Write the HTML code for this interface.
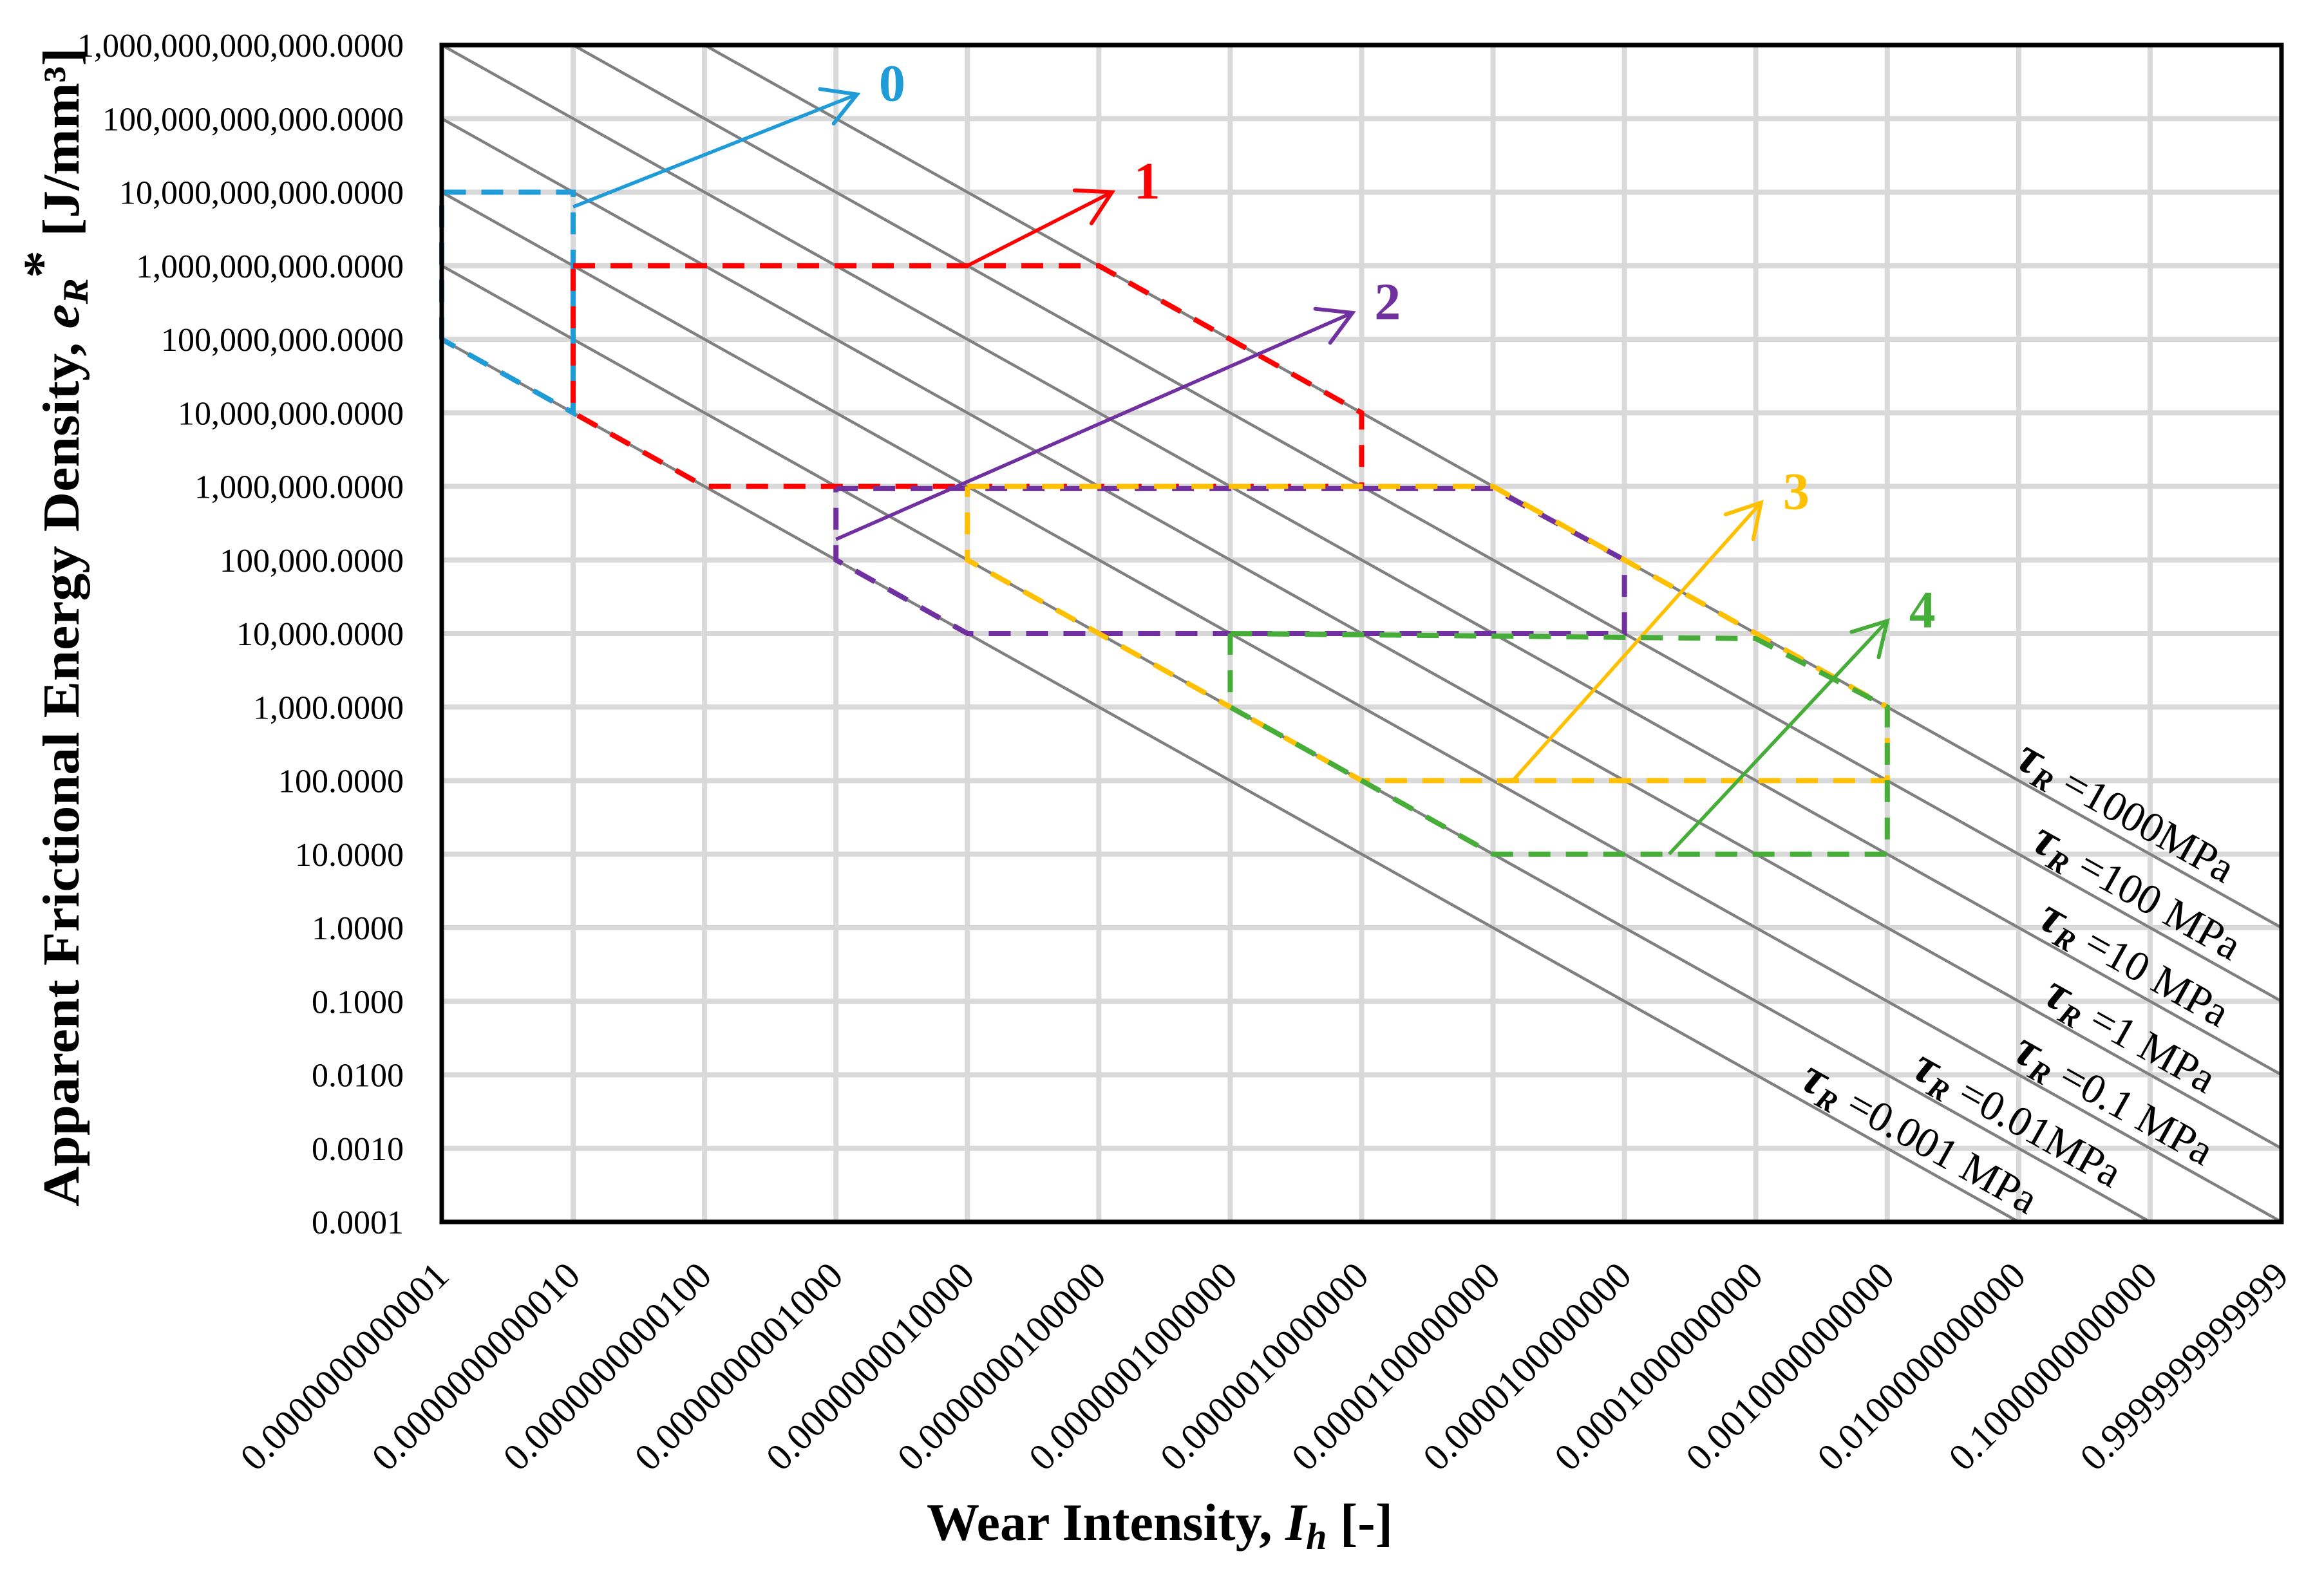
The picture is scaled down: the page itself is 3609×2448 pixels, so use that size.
<!DOCTYPE html>
<html><head><meta charset="utf-8"><style>
html,body{margin:0;padding:0;background:#fff;}
svg{display:block;font-family:"Liberation Serif",serif;}
</style></head><body>
<svg id="chart" width="3609" height="2448" viewBox="0 0 3609 2448" xmlns="http://www.w3.org/2000/svg">
<rect x="0" y="0" width="3609" height="2448" fill="#fff"/>
<g id="grid"></g>
<g id="diag"></g>
<g id="series"></g>
<rect x="686" y="70" width="2857" height="1828" fill="none" stroke="#000" stroke-width="7"/>
<g id="ylabels" font-size="52" text-anchor="end"></g>
<g id="xlabels" font-size="59" text-anchor="end"></g>
<g id="taulabels" font-size="66"></g>
<text transform="translate(122,974) rotate(-90)" text-anchor="middle" font-size="80" font-weight="bold" textLength="1800" lengthAdjust="spacingAndGlyphs">Apparent Frictional Energy Density, <tspan font-style="italic">e</tspan><tspan font-style="italic" font-size="56" dy="14">R</tspan><tspan dy="-44">*</tspan><tspan dy="30">  [J/mm³]</tspan></text>
<text x="1801" y="2392" text-anchor="middle" font-size="82" font-weight="bold" textLength="724" lengthAdjust="spacingAndGlyphs">Wear Intensity, <tspan font-style="italic">I</tspan><tspan font-style="italic" font-size="58" dy="14">h</tspan><tspan dy="-14"> [-]</tspan></text>
</svg>
<script>
// ---- data (log10 units) ----
var xTickLabels = ["0.0000000000001","0.0000000000010","0.0000000000100","0.0000000001000","0.0000000010000","0.0000000100000","0.0000001000000","0.0000010000000","0.0000100000000","0.0000100000000","0.0001000000000","0.0010000000000","0.0100000000000","0.1000000000000","0.9999999999999"];
var yTickLabels = ["0.0001","0.0010","0.0100","0.1000","1.0000","10.0000","100.0000","1,000.0000","10,000.0000","100,000.0000","1,000,000.0000","10,000,000.0000","100,000,000.0000","1,000,000,000.0000","10,000,000,000.0000","100,000,000,000.0000","1,000,000,000,000.0000"];
var tauValues = ["1000MPa","100 MPa","10 MPa","1 MPa","0.1 MPa","0.01MPa","0.001 MPa"];
var tauLogSum = [0,-1,-2,-3,-4,-5,-6]; // log10(e) + log10(I)
var tauLabelStartX = [-2.08,-1.96,-1.91,-1.87,-2.1,-2.87,-3.72];
var s0x = [-14,-14,-13,-13,-14], s0y = [8,10,10,7,8];
var s1x = [-13,-9,-7,-7,-12,-13,-13], s1y = [9,9,7,6,6,7,9];
var s2x = [-11,-6,-5,-5,-10,-11,-11], s2y = [5.97,5.97,5,4,4,5,5.97];
var s3x = [-10,-6,-3,-3,-7,-10,-10], s3y = [6,6,3,2,2,5,6];
var s4x = [-8,-4,-3,-3,-6,-8,-8], s4y = [4,3.93,3,1,1,3,4];
var arrowX0 = [-13,-10,-11,-5.85,-4.66], arrowY0 = [9.8,9,5.28,2,1];
var arrowX1 = [-10.84,-8.9,-7.07,-3.96,-3.0], arrowY1 = [11.33,10.0,8.36,5.78,4.17];
var seriesNames = ["0","1","2","3","4"];
var seriesColors = ["#1f9bd7","#ff0000","#7030a0","#ffc000","#46ad39"];
// ---- axes ----
var X0=686, X1=3543, Y0=1898, Y1=70, XMIN=-14, XMAX=0, YMIN=-4, YMAX=12;
function sx(v){return X0+(v-XMIN)*(X1-X0)/(XMAX-XMIN);}
function sy(v){return Y0-(v-YMIN)*(Y0-Y1)/(YMAX-YMIN);}
var NS="http://www.w3.org/2000/svg";
function mk(tag,attrs,parent){var e=document.createElementNS(NS,tag);for(var k in attrs)e.setAttribute(k,attrs[k]);parent.appendChild(e);return e;}
var grid=document.getElementById('grid');
for(var i=XMIN+1;i<XMAX;i++){
  var gl=mk('line',{x1:sx(i),x2:sx(i),y1:Y1,y2:Y0,stroke:'#d9d9d9','stroke-width':8},grid);
  
  
}
for(var j=YMIN+1;j<YMAX;j++){
  var hl=mk('line',{x1:X0,x2:X1,y1:sy(j),y2:sy(j),stroke:'#d9d9d9','stroke-width':8},grid);
  
  
}
// diagonal lines
var diag=document.getElementById('diag'), tl=document.getElementById('taulabels');
var ang=Math.atan2((Y0-Y1)/(YMAX-YMIN),(X1-X0)/(XMAX-XMIN))*180/Math.PI;
var ca=Math.cos(ang*Math.PI/180), sa=Math.sin(ang*Math.PI/180);
for(var k=0;k<tauLogSum.length;k++){
  var c=tauLogSum[k];
  var xa=Math.max(XMIN,c-YMAX), xb=Math.min(XMAX,c-YMIN);
  var dl=mk('line',{x1:sx(xa),y1:sy(c-xa),x2:sx(xb),y2:sy(c-xb),stroke:'#808080','stroke-width':4.5},diag);
  
  
  var lx=tauLabelStartX[k], px=sx(lx)+sa*16, py=sy(c-lx)-ca*16;
  var t=mk('text',{transform:'translate('+px+','+py+') rotate('+ang+')'},tl);
  
  
  t.innerHTML='<tspan font-weight="bold" font-style="italic" font-size="78">τ</tspan><tspan font-weight="bold" font-style="italic" font-size="46" dy="12">R</tspan><tspan dy="-12"> ='+tauValues[k]+'</tspan>';
}
// tick labels
var yl=document.getElementById('ylabels');
for(var m=0;m<yTickLabels.length;m++){
  var yt=mk('text',{x:627,y:sy(YMIN+m)+18},yl);yt.textContent=yTickLabels[m];
  
  
}
var xl=document.getElementById('xlabels');
for(var n=0;n<xTickLabels.length;n++){
  var xt=mk('text',{transform:'translate('+(sx(XMIN+n)+14)+',1985) rotate(-45)'},xl);xt.textContent=xTickLabels[n];
  
  
}
// series
var ser=document.getElementById('series');
var SX=[s0x,s1x,s2x,s3x,s4x], SY=[s0y,s1y,s2y,s3y,s4y];
for(var s=0;s<5;s++){
  var pts=[];for(var q=0;q<SX[s].length;q++)pts.push(sx(SX[s][q])+','+sy(SY[s][q]));
  var pl=mk('polyline',{points:pts.join(' '),fill:'none',stroke:seriesColors[s],'stroke-width':8,'stroke-dasharray':'34 24'},ser);
  
  
  var ax0=sx(arrowX0[s]),ay0=sy(arrowY0[s]),ax1=sx(arrowX1[s]),ay1=sy(arrowY1[s]);
  var ar=mk('line',{x1:ax0,y1:ay0,x2:ax1,y2:ay1,stroke:seriesColors[s],'stroke-width':5.5},ser);
  
  
  var th=Math.atan2(ay1-ay0,ax1-ax0),L=58,h=0.52;
  var hp=(ax1-L*Math.cos(th-h))+','+(ay1-L*Math.sin(th-h))+' '+ax1+','+ay1+' '+(ax1-L*Math.cos(th+h))+','+(ay1-L*Math.sin(th+h));
  var hd=mk('polyline',{points:hp,fill:'none',stroke:seriesColors[s],'stroke-width':6,'stroke-linecap':'round'},ser);
  
  
  var lb=mk('text',{x:ax1+34,y:ay1+10,'font-size':82,'font-weight':'bold',fill:seriesColors[s]},ser);
  lb.textContent=seriesNames[s];
  
  
}
</script>
</body></html>
